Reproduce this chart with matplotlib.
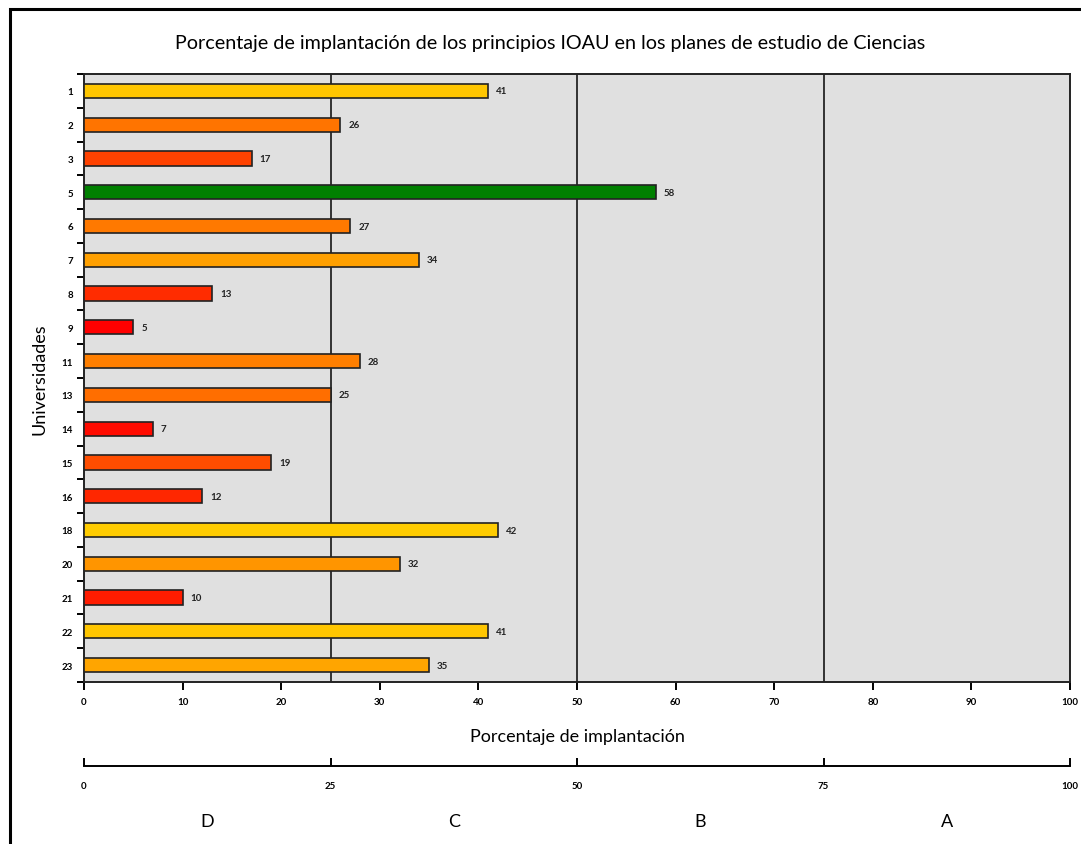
'''
Porcentaje de implantación de los principios IOAU - Ciencias
'''

import numpy as np
import matplotlib.pyplot as plt
import matplotlib.colors as mcolors
import matplotlib.transforms as mtransforms
from matplotlib.patches import Rectangle

# data
universidades = ["1", "2", "3", "5", "6", "7", "8", "9", "11", "13",
                 "14", "15", "16", "18", "20", "21", "22", "23"]
porcentaje = [41, 26, 17, 58, 27, 34, 13, 5, 28, 25,
              7, 19, 12, 42, 32, 10, 41, 35]
escala_ticks = [0, 25, 50, 75, 100]
escala_letras = ["D", "C", "B", "A"]

plt.rcParams['font.family'] = ['Lato', 'DejaVu Sans']


# colour by value: red -> yellow below 50, green from 50
def bar_color(v):
    if v >= 50:
        return "#008000"
    hue = np.clip((v - 5) / 37.0, 0, 1) * 48 / 360.0
    return mcolors.hsv_to_rgb((hue, 1.0, 1.0))


colors = [bar_color(v) for v in porcentaje]

fig = plt.figure(figsize=(10.81, 8.45), dpi=100)

# outer frame
fig.patches.append(Rectangle((10 / 1081, -0.05), 1.2, 1 - 10 / 845 + 0.05,
                             transform=fig.transFigure, fill=False,
                             edgecolor="black", linewidth=2.2))

ax = fig.add_axes([84 / 1081, 1 - 683 / 845, 986 / 1081, 608 / 845])
ax.set_facecolor("#E0E0E0")
pos = np.arange(len(universidades))
ax.barh(pos, porcentaje, height=0.42, color=colors, edgecolor="#222222",
        linewidth=1.2, zorder=3)
for p, v in zip(pos, porcentaje):
    ax.text(v + 0.8, p, str(v), va="center", ha="left", fontsize=7,
            fontweight="bold", color="#222222", zorder=4)
for xv in [25, 50, 75]:
    ax.axvline(xv, color="#333333", linewidth=1.4, zorder=2)

ax.set_xlim(0, 100)
ax.set_ylim(len(universidades) - 0.5, -0.5)
ax.set_yticks(pos)
ax.set_yticklabels(universidades)
ax.set_yticks(np.arange(-0.5, len(universidades)), minor=True)
ax.tick_params(axis="y", which="major", length=0, labelsize=7, pad=8)
ax.tick_params(axis="y", which="minor", length=5, width=1.4, direction="out")
ax.set_xticks(np.arange(0, 101, 10))
ax.tick_params(axis="x", which="major", length=6, width=1.4, labelsize=7, pad=5)
for lab in ax.get_xticklabels() + ax.get_yticklabels():
    lab.set_fontweight("bold")
for s in ax.spines.values():
    s.set_linewidth(1.4)
    s.set_color("#222222")

ax.set_xlabel("Porcentaje de implantación", fontsize=13, labelpad=16)
ax.set_ylabel("Universidades", fontsize=13, labelpad=10)
fig.suptitle("Porcentaje de implantación de los principios IOAU en los planes de estudio de Ciencias",
             fontsize=14.2, y=1 - 44 / 845, va="center", x=0.509)

# grading scale axis
ax2 = fig.add_axes([84 / 1081, 1 - 767 / 845, 986 / 1081, 0.001])
ax2.set_xlim(0, 100)
ax2.set_yticks([])
for k in ["top", "left", "right"]:
    ax2.spines[k].set_visible(False)
ax2.spines["bottom"].set_linewidth(1.4)
ax2.set_xticks(escala_ticks)
ax2.tick_params(axis="x", direction="in", length=6, width=1.4, labelsize=7, pad=11)
for lab in ax2.get_xticklabels():
    lab.set_fontweight("bold")
trans = mtransforms.blended_transform_factory(ax2.transData, fig.transFigure)
for i, letra in enumerate(escala_letras):
    ax2.text(12.5 + 25 * i, 1 - 822 / 845, letra, transform=trans,
             ha="center", va="center", fontsize=13)
ax2.patch.set_visible(False)

plt.savefig("out.png", dpi=100)
